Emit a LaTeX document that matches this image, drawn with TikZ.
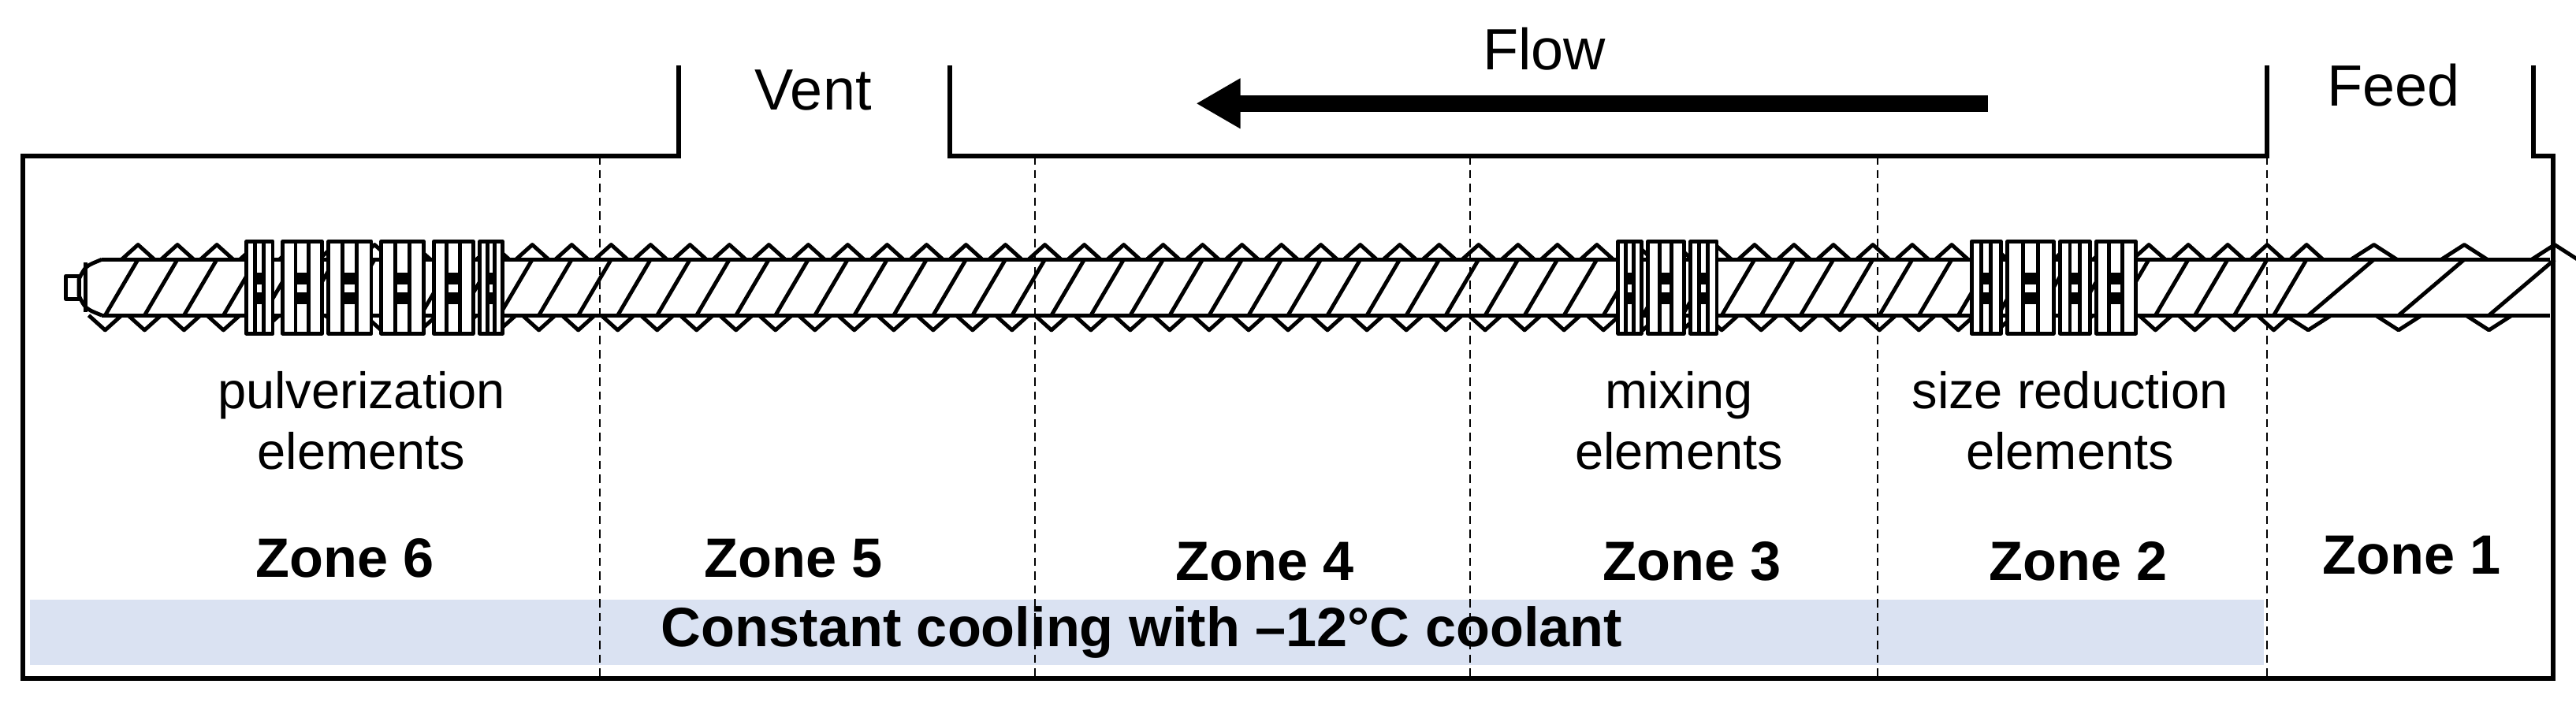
\documentclass[tikz,border=0pt]{standalone}
\usepackage{fontspec}
\setmainfont{Liberation Sans}
\usetikzlibrary{positioning,arrows.meta}
\definecolor{coolblue}{RGB}{218,226,242}
\begin{document}
\begin{tikzpicture}
    [ x = 0.02084cm, y = -0.02084cm
    , barrel/.style =
      { line width = 1.8pt }
    , divider/.style =
      { densely dashed, line width = .6pt }
    , screw/.style =
      { line width = 1.4pt, line join = round }
    , zone/.style =
      { font = \fontsize{20}{22}\selectfont\bfseries }
    , elem/.style =
      { font = \fontsize{18.5}{22}\selectfont, align = center }
    , port/.style =
      { font = \fontsize{21}{24}\selectfont }
    ]
    \useasboundingbox (0,0) rectangle (1568,432);
    \fill [coolblue] (18,365) rectangle (1378,405);

    % barrel outline with vent and feed openings
    \draw [barrel] (413,40) -- (413,95) -- (14,95) -- (14,413) -- (1554,413)
      -- (1554,95) -- (1542,95) -- (1542,40);
    \draw [barrel] (578,40) -- (578,95) -- (1380,95) -- (1380,40);
    \foreach \d in {365,630,895,1143,1380}
      \draw [divider] (\d,95) -- (\d,413);

    % screw shaft
    \draw [screw] (62,158) -- (1552,158) (62,192) -- (1552,192);
    \draw [screw] (62,158) .. controls (52,162) .. (48,170) -- (48,180)
      .. controls (52,188) .. (62,192);
    \draw [screw] (40,168) rectangle (48,182) (52,160) -- (52,190);
    \foreach \x in {64,88,...,1400}
      \draw [screw] (\x,192) -- (\x+20,158)
        (\x+10,158) -- (\x+20,149) -- (\x+30,158)
        (\x-10,192) -- (\x,201) -- (\x+10,192);
    \foreach \x in {1405,1460,1515}
      \draw [screw] (\x,192) -- (\x+40,158)
        (\x+26,158) -- (\x+40,149) -- (\x+54,158)
        (\x-14,192) -- (\x,201) -- (\x+14,192);

    % kneading blocks
    \foreach \x/\w in {150/16,172/24,200/26,232/26,264/24,292/14,
                       985/14,1003/22,1029/16,
                       1200/18,1222/28,1254/18,1276/24}
    {
      \fill [white] (\x,147) rectangle (\x+\w,203);
      \draw [screw] (\x,147) rectangle (\x+\w,203);
      \draw [screw] (\x+.33*\w,147) -- (\x+.33*\w,203)
                    (\x+.66*\w,147) -- (\x+.66*\w,203);
      \fill (\x+.33*\w,166) rectangle (\x+.66*\w,173);
      \fill (\x+.33*\w,178) rectangle (\x+.66*\w,185);
    }

    % flow arrow
    \coordinate (flowstart) at (1210,63);
    \coordinate (flowend) at (728,63);
    \draw [line width = 6pt, -{Triangle[length=16pt,width=17pt]}]
      (flowstart) -- (flowend);
    \node [port] (flow) at (940,30) {Flow};
    \node [port] (vent) at (495,55) {Vent};
    \node [port] (feed) at (1457,52) {Feed};

    \node [elem] (pulv) at (220,256) {pulverization\\elements};
    \node [elem] (mix) at (1022,256) {mixing\\elements};
    \node [elem] (sizered) at (1260,256) {size reduction\\elements};

    \node [zone] (z6) at (210,340) {Zone 6};
    \node [zone] (z5) at (483,340) {Zone 5};
    \node [zone] (z4) at (770,342) {Zone 4};
    \node [zone] (z3) at (1030,342) {Zone 3};
    \node [zone] (z2) at (1265,342) {Zone 2};
    \node [zone] (z1) at (1468,338) {Zone 1};
    \node [zone] (cool) at (695,385) {Constant cooling with \textendash12\textdegree C coolant};
\end{tikzpicture}
\end{document}
